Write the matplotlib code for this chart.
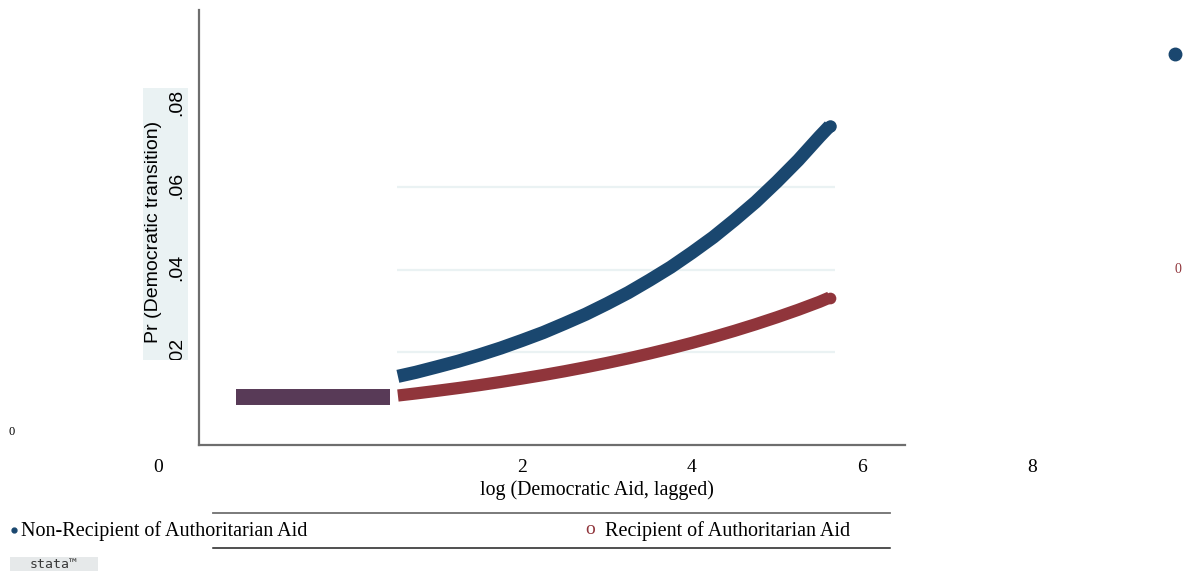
import matplotlib
matplotlib.use("Agg")
import matplotlib.pyplot as plt
from matplotlib.patches import Rectangle
from matplotlib.lines import Line2D
import matplotlib.transforms as mtransforms

# Predicted probabilities of democratic transition by log democratic aid
aid_x = [0.54, 0.75, 1.0, 1.25, 1.5, 1.75, 2.0, 2.25, 2.5, 2.75, 3.0, 3.25,
         3.5, 3.75, 4.0, 4.25, 4.5, 4.75, 5.0, 5.25, 5.5, 5.62]
pr_non_recipient = [0.0141, 0.01507, 0.0164, 0.01777, 0.0193, 0.02096, 0.0228,
                    0.02472, 0.0269, 0.02916, 0.0317, 0.03439, 0.0374, 0.04056,
                    0.0441, 0.04783, 0.0520, 0.0564, 0.0613, 0.0665, 0.0722, 0.0748]
pr_recipient = [0.00945, 0.00995, 0.01059, 0.01126, 0.01197, 0.01274, 0.01356,
                0.01441, 0.01533, 0.01631, 0.01735, 0.01845, 0.01963, 0.02088,
                0.02221, 0.02362, 0.02513, 0.02673, 0.02843, 0.03023, 0.03216,
                0.03321]

# Overlapping segment where both groups coincide
overlap_x = [-1.365, 0.447]
overlap_pr = 0.0091

y_ticks = [0.02, 0.04, 0.06, 0.08]
y_tick_labels = [".02", ".04", ".06", ".08"]
x_ticks = [2, 4, 6, 8]
x_tick_labels = ["2", "4", "6", "8"]
series_labels = ["Non-Recipient of Authoritarian Aid", "Recipient of Authoritarian Aid"]

BLUE = "#1a476f"
RED = "#90353b"
PURPLE = "#583a57"
GRID = "#eaf2f3"
AXIS = "#6e6e6e"

W, H = 1183, 571
fig = plt.figure(figsize=(W / 100, H / 100), dpi=100)
fig.patch.set_facecolor("white")

def fx(px):
    return px / W

def fy(py):
    return 1 - py / H

ax = fig.add_axes([fx(199), fy(445), fx(905) - fx(199), fy(10) - fy(445)])
ax.set_xlim(-1.8, 6.506)
ax.set_ylim(-0.002545, 0.10291)
ax.set_facecolor("none")
for s in ["top", "right"]:
    ax.spines[s].set_visible(False)
for s in ["left", "bottom"]:
    ax.spines[s].set_color(AXIS)
    ax.spines[s].set_linewidth(1.6)
ax.set_xticks([])
ax.set_yticks([])

# horizontal grid
ax.hlines(y_ticks[:3], 0.53, 5.68, color=GRID, lw=1.6, zorder=1)

# curves
ax.plot(aid_x, pr_non_recipient, color=BLUE, lw=9.5, solid_capstyle="butt",
        solid_joinstyle="round", zorder=3)
ax.plot(aid_x[-1:], pr_non_recipient[-1:], "o", color=BLUE, ms=9.0, mew=0, zorder=3)
ax.plot(aid_x, pr_recipient, color=RED, lw=8.8, solid_capstyle="butt",
        solid_joinstyle="round", zorder=3)
ax.plot(aid_x[-1:], pr_recipient[-1:], "o", color=RED, ms=8.4, mew=0, zorder=3)
ax.plot(overlap_x, [overlap_pr, overlap_pr], color=PURPLE, lw=11.5,
        solid_capstyle="butt", zorder=3)

# x tick labels (data x, figure y)
trans_x = mtransforms.blended_transform_factory(ax.transData, fig.transFigure)
for v, lab in zip(x_ticks, x_tick_labels):
    ax.text(v, fy(467), lab, transform=trans_x, ha="center", va="center",
            family="Liberation Serif", fontsize=14, clip_on=False)
fig.text(fx(158), fy(467), "0", ha="center", va="center",
         family="Liberation Serif", fontsize=14)
fig.text(fx(597), fy(490), "log (Democratic Aid, lagged)", ha="center", va="center",
         family="Liberation Serif", fontsize=14.3)

# y-axis title block
box = Rectangle((fx(143), fy(360)), fx(188) - fx(143), fy(88) - fy(360),
                transform=fig.transFigure, facecolor=GRID, edgecolor="none", zorder=0)
fig.patches.append(box)
label_shift = mtransforms.ScaledTranslation(0, 2 / 100, fig.dpi_scale_trans)
trans_y = mtransforms.blended_transform_factory(fig.transFigure, ax.transData) + label_shift
for v, lab in zip(y_ticks, y_tick_labels):
    t = fig.text(fx(177), v, lab, transform=trans_y, rotation=90, ha="center",
                 va="center", family="Liberation Sans", fontsize=14)
    t.set_clip_path(box)
fig.text(fx(154), fy(232), "Pr (Democratic transition)", rotation=90,
         ha="center", va="center", family="Liberation Sans", fontsize=14)

# stray labels
fig.text(fx(12), fy(432), "0", ha="center", va="center",
         family="Liberation Serif", fontsize=9)
fig.text(fx(1178), fy(270), "0", ha="center", va="center", color=RED,
         family="Liberation Serif", fontsize=10)
fig.add_artist(Line2D([fx(1175)], [fy(54)], marker="o", markersize=9,
                      color=BLUE, transform=fig.transFigure))

# legend
fig.add_artist(Line2D([fx(213), fx(890)], [fy(513), fy(513)], color="#707070",
                      lw=1.3, transform=fig.transFigure))
fig.add_artist(Line2D([fx(213), fx(890)], [fy(548), fy(548)], color="#202020",
                      lw=1.1, transform=fig.transFigure))
fig.add_artist(Line2D([fx(14)], [fy(530)], marker="o", markersize=3.5,
                      color=BLUE, transform=fig.transFigure))
fig.text(fx(21), fy(531), series_labels[0], ha="left", va="center",
         family="Liberation Serif", fontsize=14.5)
fig.text(fx(590), fy(530), "o", ha="center", va="center", color=RED,
         family="Liberation Serif", fontsize=14)
fig.text(fx(605), fy(531), series_labels[1], ha="left", va="center",
         family="Liberation Serif", fontsize=14.5)

# logo
logo = Rectangle((fx(10), fy(571)), fx(98) - fx(10), fy(557) - fy(571),
                 transform=fig.transFigure, facecolor="#e6e9ea", edgecolor="none")
fig.patches.append(logo)
fig.text(fx(54), fy(564), "stata\u2122", ha="center", va="center", color="#3a3a3a",
         family="DejaVu Sans Mono", fontsize=9.5)

fig.savefig("out.png", dpi=100, facecolor="white")
